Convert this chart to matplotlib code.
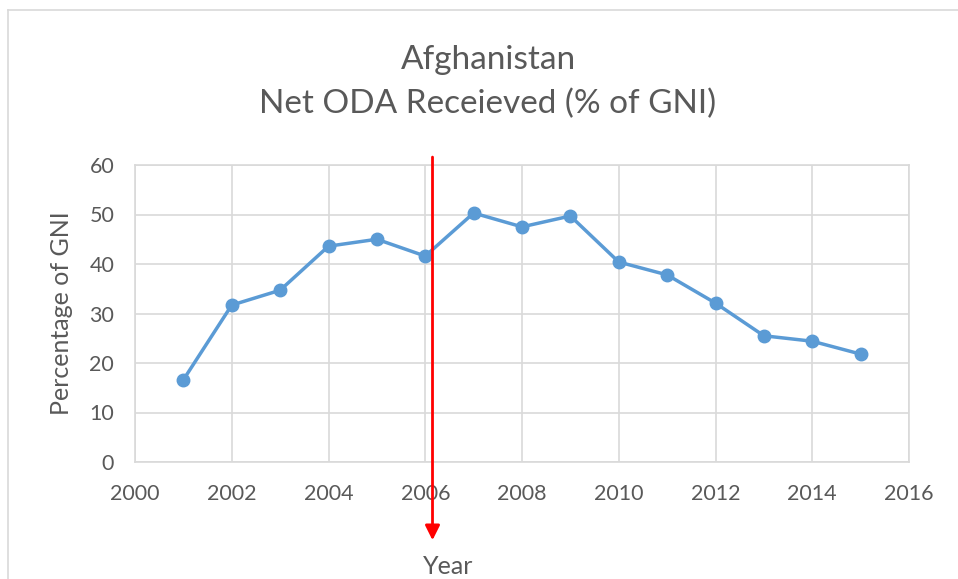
import matplotlib.pyplot as plt

years = [2001, 2002, 2003, 2004, 2005, 2006, 2007, 2008,
         2009, 2010, 2011, 2012, 2013, 2014, 2015]
oda_pct_gni = [16.6, 31.7, 34.7, 43.6, 45.0, 41.6, 50.3, 47.5,
               49.7, 40.4, 37.8, 32.1, 25.5, 24.4, 21.8]
x_ticks = [2000, 2002, 2004, 2006, 2008, 2010, 2012, 2014, 2016]
y_ticks = [0, 10, 20, 30, 40, 50, 60]
marker_year = 2006.15

plt.rcParams['font.family'] = ['Lato', 'DejaVu Sans']
txt = '#595959'
grid = '#D9D9D9'

fig = plt.figure(figsize=(9.58, 5.79), dpi=100)
ax = fig.add_axes([135 / 958, 1 - 462 / 579, (909 - 135) / 958, (462 - 165) / 579])

ax.plot(years, oda_pct_gni, color='#5B9BD5', linewidth=2.5,
        marker='o', markersize=9, zorder=3)

ax.set_xlim(2000, 2016)
ax.set_ylim(0, 60)
ax.set_xticks(x_ticks)
ax.set_yticks(y_ticks)
ax.grid(True, color=grid, linewidth=1.2)
ax.set_axisbelow(True)
for s in ax.spines.values():
    s.set_color(grid)
    s.set_linewidth(1.2)
ax.tick_params(length=0, labelsize=15.5, colors=txt)
ax.tick_params(axis='x', pad=16)
ax.tick_params(axis='y', pad=15)

ax.set_ylabel('Percentage of GNI', fontsize=18, color=txt, labelpad=12)

# red arrow marking 2006
ax.annotate('', xy=(marker_year, -15.8), xytext=(marker_year, 61.6),
            xycoords='data', textcoords='data', annotation_clip=False,
            arrowprops=dict(arrowstyle='-|>', color='#FF0000', lw=2,
                            mutation_scale=22, shrinkA=0, shrinkB=0))

fig.text(488 / 958, 1 - 60 / 579, 'Afghanistan', ha='center', va='center',
         fontsize=24, color=txt)
fig.text(488 / 958, 1 - 104 / 579, 'Net ODA Receieved (% of GNI)', ha='center',
         va='center', fontsize=24, color=txt)
fig.text(448 / 958, 1 - 567 / 579, 'Year', ha='center', va='center',
         fontsize=18, color=txt)

# chart border
fig.add_artist(plt.Line2D([8 / 958, 8 / 958], [0, 1 - 10 / 579],
                          color='#D9D9D9', lw=1.2))
fig.add_artist(plt.Line2D([8 / 958, 1], [1 - 10 / 579, 1 - 10 / 579],
                          color='#D9D9D9', lw=1.2))

fig.savefig('out.png', dpi=100)
